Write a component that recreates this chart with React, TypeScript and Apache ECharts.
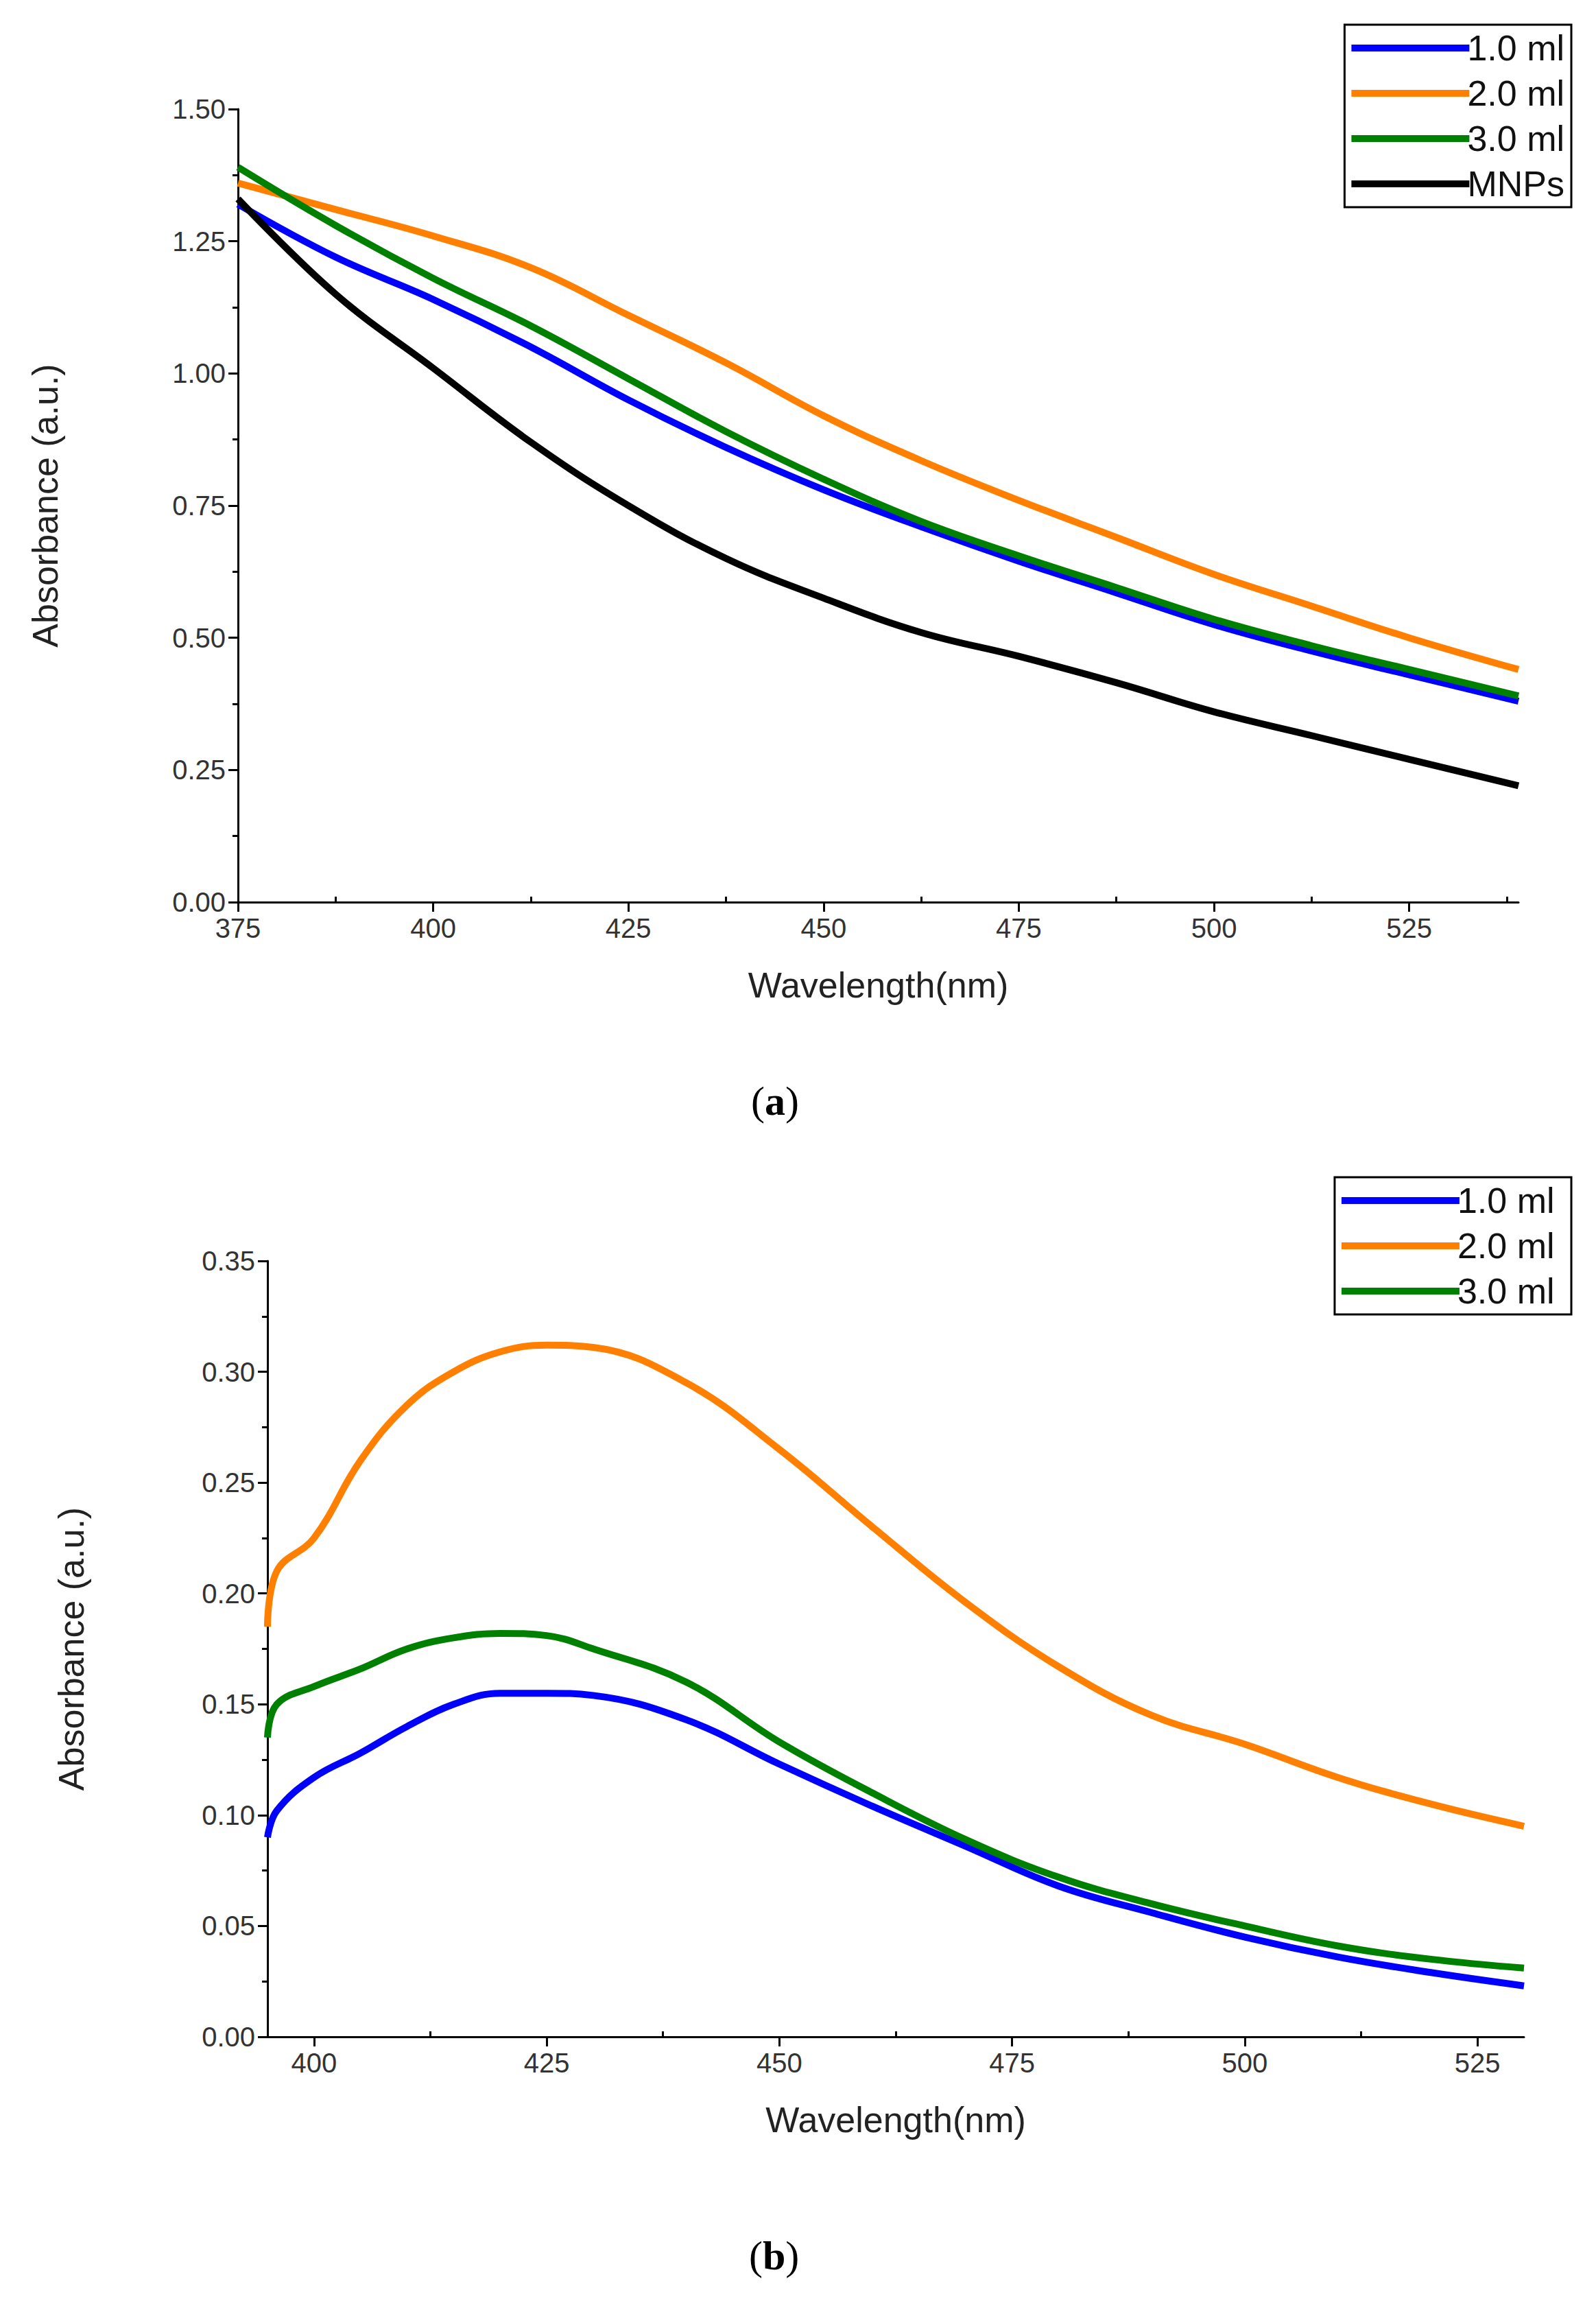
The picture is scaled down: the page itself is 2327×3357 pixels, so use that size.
import React, { useEffect, useRef } from "react";
import * as echarts from "echarts";

const xA = [375, 387.5, 400, 412.5, 425, 437.5, 450, 462.5, 475, 487.5, 500, 512.5, 525, 539];
const a1 = [1.32, 1.22, 1.14, 1.05, 0.95, 0.86, 0.78, 0.71, 0.645, 0.585, 0.525, 0.475, 0.43, 0.38];
const a2 = [1.36, 1.31, 1.26, 1.2, 1.11, 1.02, 0.92, 0.835, 0.76, 0.69, 0.62, 0.56, 0.5, 0.44];
const a3 = [1.39, 1.28, 1.18, 1.09, 0.99, 0.89, 0.8, 0.72, 0.655, 0.595, 0.535, 0.485, 0.44, 0.39];
const aM = [1.33, 1.15, 1.01, 0.87, 0.75, 0.65, 0.575, 0.51, 0.465, 0.415, 0.36, 0.315, 0.27, 0.22];

const xB = [395, 396, 400, 405, 410, 415, 420, 425, 430, 440, 450, 460, 470, 480, 490, 500, 510, 520, 530];
const b1 = [0.09, 0.102, 0.117, 0.128, 0.14, 0.15, 0.155, 0.155, 0.154, 0.143, 0.123, 0.104, 0.086, 0.068, 0.056, 0.045, 0.036, 0.029, 0.023];
const b2 = [0.185, 0.21, 0.225, 0.26, 0.285, 0.3, 0.309, 0.312, 0.311, 0.295, 0.265, 0.23, 0.196, 0.167, 0.145, 0.132, 0.117, 0.105, 0.095];
const b3 = [0.135, 0.15, 0.158, 0.166, 0.175, 0.18, 0.182, 0.181, 0.175, 0.16, 0.133, 0.11, 0.089, 0.072, 0.06, 0.05, 0.041, 0.035, 0.031];

const xTicksA = [375, 400, 425, 450, 475, 500, 525];
const xMinorA = [387.5, 412.5, 437.5, 462.5, 487.5, 512.5, 537.5];
const xTicksB = [400, 425, 450, 475, 500, 525];
const xMinorB = [412.5, 437.5, 462.5, 487.5, 512.5];

const BLUE = "#0000ff", ORANGE = "#ff8000", GREEN = "#008000", BLACK = "#000000";
const FONT = "Liberation Sans";

const zip = (xs: number[], ys: number[]) => xs.map((x, i) => [x, ys[i]]);

export default function App() {
  const ref = useRef<HTMLDivElement>(null);
  useEffect(() => {
    document.body.style.margin = "0";
    const chart = echarts.init(ref.current!, null, { renderer: "svg" });
    const lbl = { color: "#333", fontSize: 40, fontFamily: FONT };
    const line = { lineStyle: { color: "#000", width: 3 } };
    const xMain = (gi: number, min: number, max: number, ticks: number[]) => ({
      type: "value", gridIndex: gi, min, max,
      axisLine: { ...line, onZero: false },
      axisTick: { customValues: ticks, length: 14, lineStyle: { color: "#000", width: 3 } },
      axisLabel: { customValues: ticks, ...lbl, margin: 18 },
      splitLine: { show: false },
      name: "Wavelength(nm)", nameLocation: "middle", nameGap: 95,
      nameTextStyle: { fontSize: 52, color: "#222", fontFamily: FONT },
    });
    const xMinor = (gi: number, min: number, max: number, ticks: number[]) => ({
      type: "value", gridIndex: gi, min, max,
      axisLine: { show: false },
      axisTick: { customValues: ticks, length: 8, lineStyle: { color: "#000", width: 3 } },
      axisLabel: { show: false }, splitLine: { show: false },
    });
    const yAx = (gi: number, max: number, interval: number, dec: number) => ({
      type: "value", gridIndex: gi, min: 0, max, interval,
      axisLine: { show: true, ...line },
      axisTick: { show: true, length: 14, lineStyle: { color: "#000", width: 3 } },
      minorTick: { show: true, splitNumber: 2, length: 8, lineStyle: { color: "#000", width: 3 } },
      axisLabel: { ...lbl, margin: 18, formatter: (v: number) => v.toFixed(2) },
      splitLine: { show: false },
      name: "Absorbance (a.u.)", nameLocation: "middle", nameGap: gi === 0 ? 255 : 260,
      nameTextStyle: { fontSize: 52, color: "#222", fontFamily: FONT },
    });
    const ser = (name: string, xi: number, yi: number, xs: number[], ys: number[], color: string) => ({
      name, type: "line", xAxisIndex: xi, yAxisIndex: yi, data: zip(xs, ys),
      smooth: 0.4, showSymbol: false, lineStyle: { color, width: 10 }, itemStyle: { color },
    });
    const leg = (gi: number, names: string[], top: number) => ({
      data: names, right: 36, top, orient: "vertical", itemGap: 14,
      itemWidth: 172, itemHeight: 10, padding: [8, 10, 8, 10],
      borderColor: "#000", borderWidth: 3, backgroundColor: "#fff",
      textStyle: { fontSize: 52, color: "#111", fontFamily: FONT, padding: [0, 0, 0, -8] },
      icon: "rect",
    });
    chart.setOption({
      animation: false,
      backgroundColor: "#fff",
      grid: [
        { left: 347, width: 1867, top: 159, height: 1156 },
        { left: 390, width: 1832, top: 1838, height: 1131 },
      ],
      xAxis: [
        xMain(0, 375, 539, xTicksA), xMinor(0, 375, 539, xMinorA),
        xMain(1, 395, 530, xTicksB), xMinor(1, 395, 530, xMinorB),
      ],
      yAxis: [yAx(0, 1.5, 0.25, 2), yAx(1, 0.35, 0.05, 2)],
      legend: [
        leg(0, ["1.0 ml", "2.0 ml", "3.0 ml", "MNPs"], 36),
        { ...leg(1, ["1.0 ml ", "2.0 ml ", "3.0 ml "], 1716) },
      ],
      series: [
        ser("1.0 ml", 0, 0, xA, a1, BLUE),
        ser("2.0 ml", 0, 0, xA, a2, ORANGE),
        ser("3.0 ml", 0, 0, xA, a3, GREEN),
        ser("MNPs", 0, 0, xA, aM, BLACK),
        ser("1.0 ml ", 2, 1, xB, b1, BLUE),
        ser("2.0 ml ", 2, 1, xB, b2, ORANGE),
        ser("3.0 ml ", 2, 1, xB, b3, GREEN),
      ],
      graphic: [
        { type: "text", left: 1095, top: 1575, style: { text: "({b|a})", rich: { b: { fontWeight: "bold", fontSize: 60, fontFamily: "Liberation Serif" } }, fontSize: 60, fontFamily: "Liberation Serif", fill: "#000" } },
        { type: "text", left: 1092, top: 3258, style: { text: "({b|b})", rich: { b: { fontWeight: "bold", fontSize: 60, fontFamily: "Liberation Serif" } }, fontSize: 60, fontFamily: "Liberation Serif", fill: "#000" } },
      ],
    });
    return () => chart.dispose();
  }, []);
  return <div ref={ref} style={{ width: 2327, height: 3357 }} />;
}
